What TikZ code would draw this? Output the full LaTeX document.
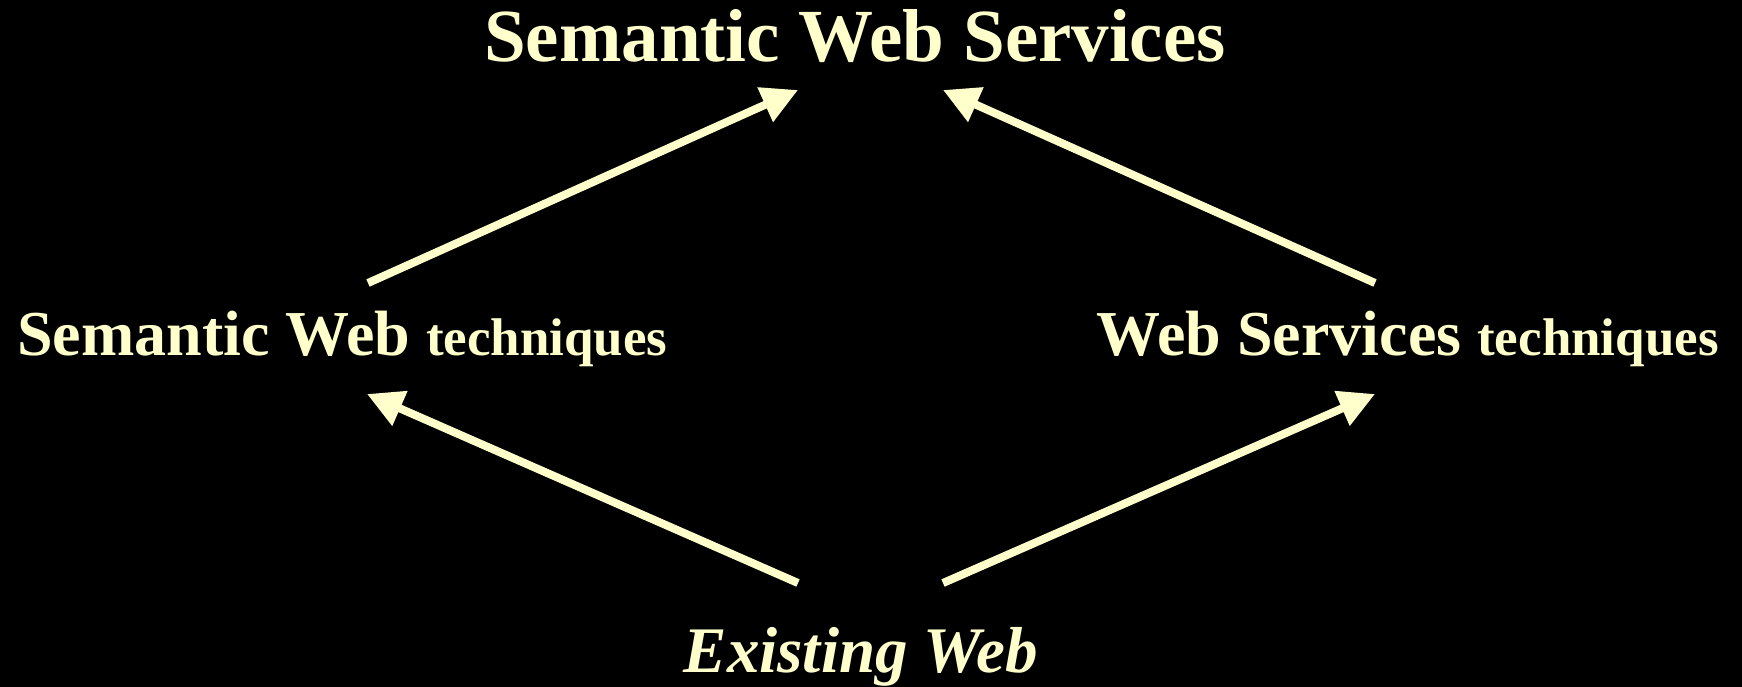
\documentclass[tikz,border=0pt]{standalone}
\usepackage{fontspec}
\setmainfont{Liberation Serif}
\usetikzlibrary{arrows.meta}
\definecolor{pale}{HTML}{FFFFCC}
\tikzset{
  lbl/.style={inner sep=0pt, text=pale},
  big/.style={font=\fontsize{64pt}{70pt}\selectfont\bfseries},
  flow/.style={draw=pale, line width=8pt, -{Triangle[length=36pt,width=36pt]}}
}
\begin{document}
\begin{tikzpicture}[x=1pt,y=-1pt]
\fill[black] (0,0) rectangle (1742,687);
\useasboundingbox (0,0) rectangle (1742,687);
\node[lbl, anchor=base, font=\fontsize{75pt}{80pt}\selectfont\bfseries] (sws) at (855,62) {Semantic Web Services};
\node[lbl, big, anchor=base west] (swt) at (17,355) {Semantic Web {\fontsize{53pt}{60pt}\selectfont techniques}};
\node[lbl, big, anchor=base east] (wst) at (1719,355) {Web Services {\fontsize{53pt}{60pt}\selectfont techniques}};
\node[lbl, anchor=base, font=\fontsize{65pt}{70pt}\selectfont\bfseries\itshape] (ew) at (861,672) {Existing Web};
\coordinate (swtTop) at (368,283);
\coordinate (swtBot) at (367,394);
\coordinate (wstTop) at (1375,283);
\coordinate (wstBot) at (1375,394);
\coordinate (swsL) at (798,90);
\coordinate (swsR) at (943,90);
\coordinate (ewL) at (798,583);
\coordinate (ewR) at (943,583);
\draw[flow] (swtTop) -- (swsL);
\draw[flow] (wstTop) -- (swsR);
\draw[flow] (ewL) -- (swtBot);
\draw[flow] (ewR) -- (wstBot);
\end{tikzpicture}
\end{document}
